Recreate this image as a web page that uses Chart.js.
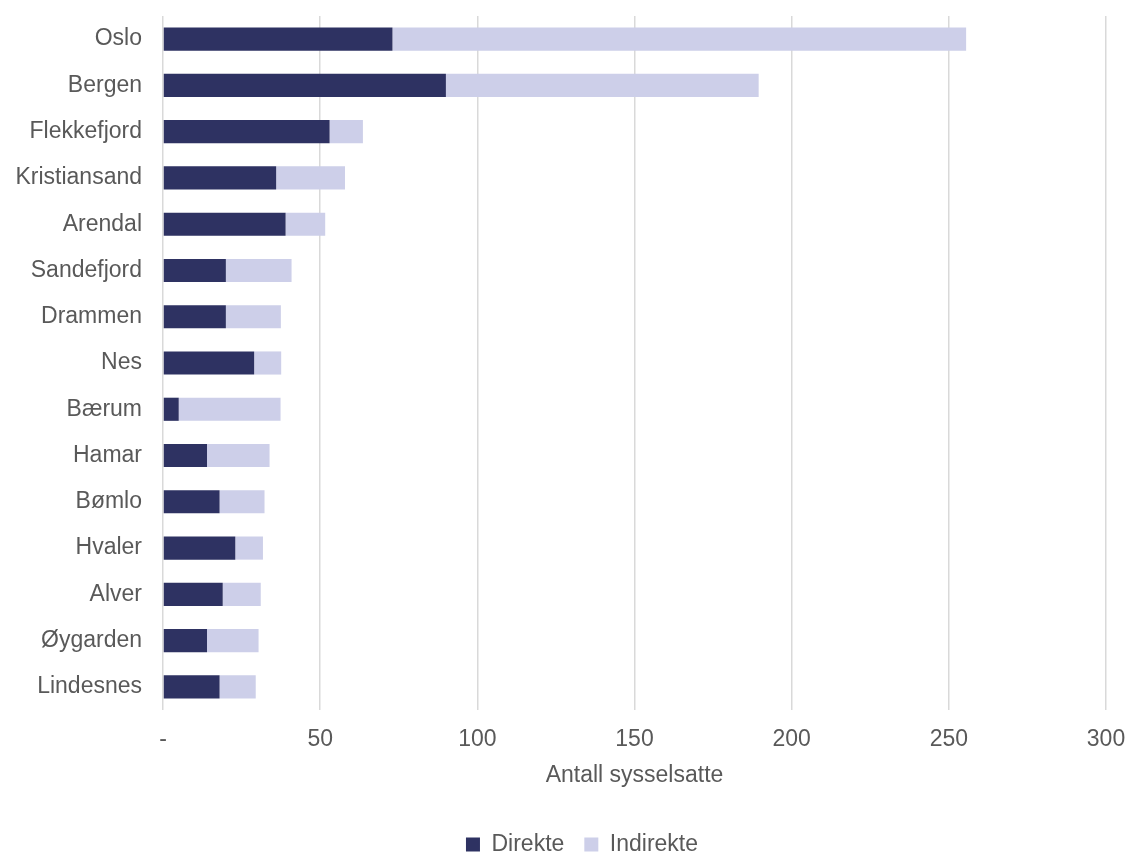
<!DOCTYPE html>
<html>
<head>
<meta charset="utf-8">
<script src="https://cdn.jsdelivr.net/npm/chart.js@4"></script>
<style>
  html, body { margin: 0; padding: 0; background: #fff; }
  #wrap { width: 1132px; height: 853px; }
</style>
</head>
<body>
<div id="wrap"><canvas id="graph01"></canvas></div>
<script>
const kommuner = ['Oslo', 'Bergen', 'Flekkefjord', 'Kristiansand', 'Arendal', 'Sandefjord', 'Drammen', 'Nes', 'Bærum', 'Hamar', 'Bømlo', 'Hvaler', 'Alver', 'Øygarden', 'Lindesnes']
const direkte = [73, 90, 53, 36, 39, 20, 20, 29, 5, 14, 18, 23, 19, 14, 18]
const indirekte = [182.5, 99.5, 10.6, 21.9, 12.6, 20.9, 17.5, 8.6, 32.4, 19.9, 14.3, 8.8, 12.1, 16.4, 11.5]
const xTicks = [0, 50, 100, 150, 200, 250, 300]

Chart.defaults.font.family = '"Liberation Sans", Arial, sans-serif'
Chart.defaults.font.size = 23
Chart.defaults.color = '#595959'

// legend: fixed height at the bottom, nudged a bit to the right
const legendPlace = {
  id: 'legendPlace',
  beforeLayout(chart) {
    const lg = chart.legend
    if (lg && !lg._patched) {
      const fit = lg.fit
      lg.fit = function () {
        fit.call(this)
        this.height = 40
      }
      lg._patched = true
    }
  },
  afterLayout(chart) {
    chart.legend.left += 29
    chart.legend.right += 29
  }
}

const graph01 = document.getElementById('graph01')

new Chart(graph01, {
    type: 'bar',
    data: {
        labels: kommuner,
        datasets: [
          {
            label: 'Direkte',
            data: direkte,
            backgroundColor: '#2e3262',
            barPercentage: 0.5,
            categoryPercentage: 1
          },
          {
            label: 'Indirekte',
            data: indirekte,
            backgroundColor: '#cdcfe9',
            barPercentage: 0.5,
            categoryPercentage: 1
          }
        ],
    },
    options: {
      indexAxis: 'y',
      responsive: true,
      maintainAspectRatio: false,
      animation: false,
      layout: {
        autoPadding: false,
        padding: { top: 16, right: 26, left: 0, bottom: 0 }
      },
      scales: {
        x: {
          stacked: true,
          min: 0,
          max: 300,
          afterBuildTicks: axis => {
            axis.ticks = xTicks.map(v => ({ value: v }))
          },
          afterFit: axis => {
            axis.paddingLeft = 0
            axis.paddingRight = 0
            axis.height = 103
          },
          ticks: {
            padding: 16,
            maxRotation: 0,
            callback: v => v === 0 ? '-' : v
          },
          grid: {
            color: '#d9d9d9',
            lineWidth: 1.5,
            drawTicks: false
          },
          border: { display: false },
          title: {
            display: true,
            text: 'Antall sysselsatte',
            padding: { top: 0, bottom: 24 }
          }
        },
        y: {
          stacked: true,
          afterFit: axis => {
            axis.width = 163
            axis.paddingTop = 0
            axis.paddingBottom = 0
          },
          ticks: {
            padding: 21
          },
          grid: { display: false, drawTicks: false },
          border: { display: false }
        }
      },
      plugins: {
        legend: {
          position: 'bottom',
          labels: {
            boxWidth: 14,
            boxHeight: 14,
            padding: 20,
            useBorderRadius: false
          }
        },
        tooltip: { enabled: false }
      }
    },
    plugins: [legendPlace]
});
</script>
</body>
</html>
